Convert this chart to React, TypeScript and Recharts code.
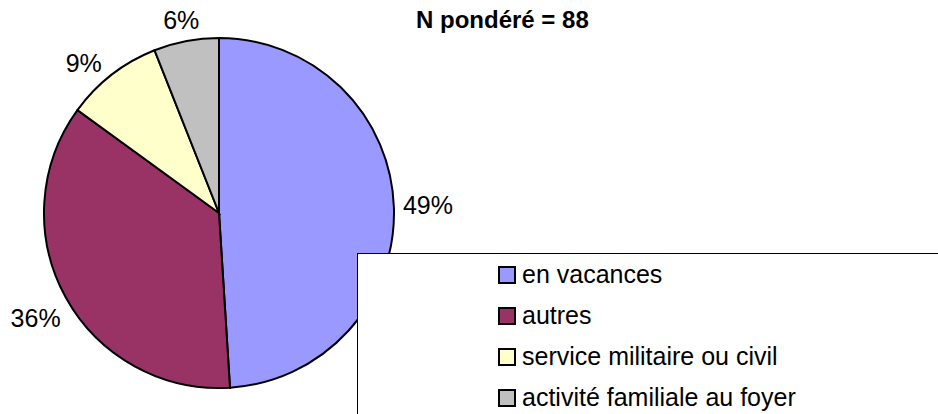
import { Legend, Pie, PieChart, Cell } from "recharts";

// shares (N pondéré = 88)
const CATEGORIES = [
  "en vacances",
  "autres",
  "service militaire ou civil",
  "activité familiale au foyer",
];
const SHARES = [49, 36, 9, 6];
const COLORS = ["#9999FF", "#993366", "#FFFFCC", "#C0C0C0"];
const TITLE = "N pondéré = 88";

const FONT = '"Liberation Sans", Arial, sans-serif';
const RAD = Math.PI / 180;

// nudges so each label sits where Excel put it
const LABEL_NUDGE: Array<[number, number]> = [
  [34, -3],
  [-30, 21],
  [-28, -12],
  [-5, -21],
];

const rows = CATEGORIES.map((name, i) => ({ name, value: SHARES[i] }));

function PctLabel(props: any) {
  const { cx, cy, midAngle, outerRadius, index, value } = props;
  const [dx, dy] = LABEL_NUDGE[index] ?? [0, 0];
  const x = cx + outerRadius * Math.cos(-midAngle * RAD) + dx;
  const y = cy + outerRadius * Math.sin(-midAngle * RAD) + dy;
  return (
    <text
      x={x}
      y={y}
      textAnchor="middle"
      dominantBaseline="central"
      fontFamily={FONT}
      fontSize={25}
      fill="#000"
    >
      {value}%
    </text>
  );
}

function LegendBox() {
  return (
    <div
      style={{
        width: 600,
        height: 200,
        boxSizing: "border-box",
        border: "1px solid #000",
        background: "#fff",
        paddingLeft: 140,
        fontFamily: FONT,
        fontSize: 25,
        color: "#000",
      }}
    >
      {rows.map((r, i) => (
        <div key={r.name} style={{ display: "flex", alignItems: "center", height: 41 }}>
          <span
            style={{
              display: "inline-block",
              width: 18,
              height: 18,
              boxSizing: "border-box",
              border: "2px solid #000",
              background: COLORS[i],
              marginRight: 6,
            }}
          />
          <span style={{ whiteSpace: "nowrap", lineHeight: 1 }}>{r.name}</span>
        </div>
      ))}
    </div>
  );
}

export default function App() {
  return (
    <div
      style={{
        position: "absolute",
        left: 0,
        top: 0,
        width: 938,
        height: 414,
        overflow: "hidden",
        background: "#fff",
      }}
    >
      <PieChart width={938} height={414} margin={{ top: 0, right: 0, bottom: 0, left: 0 }}>
        <Pie
          data={rows}
          dataKey="value"
          nameKey="name"
          cx={219}
          cy={213}
          outerRadius={175}
          startAngle={90}
          endAngle={-270}
          stroke="#000"
          strokeWidth={2}
          label={PctLabel}
          labelLine={false}
          isAnimationActive={false}
        >
          {rows.map((r, i) => (
            <Cell key={r.name} fill={COLORS[i]} />
          ))}
        </Pie>
        <Legend
          content={<LegendBox />}
          wrapperStyle={{ position: "absolute", left: 357, top: 253, width: 600, height: 200 }}
        />
      </PieChart>
      <div
        style={{
          position: "absolute",
          left: 416,
          top: 8,
          fontFamily: FONT,
          fontSize: 24,
          fontWeight: "bold",
          lineHeight: "24px",
          whiteSpace: "nowrap",
        }}
      >
        {TITLE}
      </div>
    </div>
  );
}
